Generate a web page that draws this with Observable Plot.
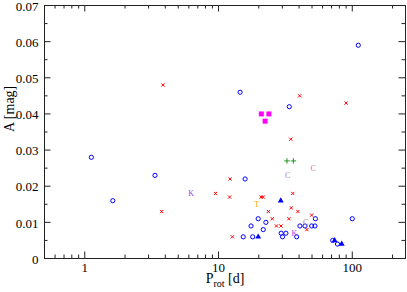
<!DOCTYPE html>
<html><head><meta charset="utf-8">
<script src="https://cdn.jsdelivr.net/npm/d3@7"></script>
<script src="https://cdn.jsdelivr.net/npm/@observablehq/plot@0.6"></script>
<style>body{margin:0;background:#fff} svg{display:block}</style>
</head><body><div id="chart"></div>
<script>
// Data (P_rot in days, amplitude A in mag)
const circleP = [1.12, 1.62, 3.35, 14.5, 15.8, 33.8, 110.9, 19.8, 22.6, 17.5, 21.6, 15.3, 18.0, 53.0, 40.6, 44.3, 49.7, 52.6, 29.4, 31.9, 30.1, 38.4, 71.4, 77.5, 100];
const circleA = [0.028, 0.016, 0.023, 0.046, 0.022, 0.042, 0.059, 0.011, 0.010, 0.009, 0.008, 0.006, 0.006, 0.011, 0.009, 0.009, 0.009, 0.009, 0.007, 0.007, 0.006, 0.006, 0.005, 0.004, 0.011];
const crossP = [3.85, 40.4, 89.8, 34.7, 12.2, 9.5, 12.1, 20.8, 21.6, 3.76, 12.7, 23.6, 35.9, 25.2, 35.0, 39.2, 33.6, 49.7, 27.1, 29.3, 45.8];
const crossA = [0.048, 0.045, 0.043, 0.033, 0.022, 0.018, 0.017, 0.017, 0.017, 0.013, 0.006, 0.013, 0.018, 0.011, 0.014, 0.013, 0.011, 0.012, 0.009, 0.009, 0.008];
const squareP = [20.9, 23.8, 22.3];
const squareA = [0.040, 0.040, 0.038];
const plusP = [32.5, 36.3];
const plusA = [0.027, 0.027];
const triP = [19.8, 29.2, 73.8, 83.4];
const triA = [0.006, 0.016, 0.005, 0.004];
const cP = [51.1, 32.9, 44.9];
const cA = [0.025, 0.023, 0.010];
const kP = [6.23, 36.9];
const kA = [0.018, 0.007];
const tP = [19.3];
const tA = [0.015];

const xMajor = [1, 10, 100];
const xMinor = [0.6, 0.7, 0.8, 0.9, 2, 3, 4, 5, 6, 7, 8, 9, 20, 30, 40, 50, 60, 70, 80, 90, 200];
const yMajor = [0, 0.01, 0.02, 0.03, 0.04, 0.05, 0.06, 0.07];
const yMinor = [0.005, 0.015, 0.025, 0.035, 0.045, 0.055, 0.065];
const xLabel = "P_rot [d]";
const yLabel = "A [mag]";

const zip = (P, A) => P.map((p, i) => ({p, a: A[i]}));

const W = 407, H = 292, mL = 44, mR = 2, mT = 5, mB = 34;
const plotH = H - mT - mB, plotW = W - mL - mR;
const font = "'Liberation Serif', 'Times New Roman', serif";
const axCol = "#222";
const maj = 6.5, mnr = 3.5;

const svg = Plot.plot({
  width: W, height: H,
  marginLeft: mL, marginRight: mR, marginTop: mT, marginBottom: mB,
  style: {fontFamily: font, fontSize: "13px", background: "#fff", color: "#000", overflow: "visible"},
  x: {type: "log", domain: [0.5, 250]},
  y: {domain: [0, 0.07]},
  marks: [
    Plot.frame({stroke: axCol}),
    Plot.ruleX(xMajor, {x: d => d, insetTop: plotH - maj, stroke: axCol}),
    Plot.ruleX(xMajor, {x: d => d, insetBottom: plotH - maj, stroke: axCol}),
    Plot.ruleX(xMinor, {x: d => d, insetTop: plotH - mnr, stroke: axCol}),
    Plot.ruleX(xMinor, {x: d => d, insetBottom: plotH - mnr, stroke: axCol}),
    Plot.ruleY(yMajor, {y: d => d, insetRight: plotW - maj, stroke: axCol}),
    Plot.ruleY(yMajor, {y: d => d, insetLeft: plotW - maj, stroke: axCol}),
    Plot.ruleY(yMinor, {y: d => d, insetRight: plotW - mnr, stroke: axCol}),
    Plot.ruleY(yMinor, {y: d => d, insetLeft: plotW - mnr, stroke: axCol}),
    Plot.axisX({ticks: xMajor, tickSize: 0, tickPadding: 4, tickFormat: d => String(d), label: null}),
    Plot.axisY({ticks: yMajor, tickSize: 0, tickPadding: 6, dy: 1, tickFormat: d => d === 0 ? "0" : d.toFixed(2), label: null}),
    Plot.text([yLabel], {text: d => d, frameAnchor: "left", dx: -35, rotate: -90, fontSize: 14}),
    Plot.text([xLabel], {text: d => d, frameAnchor: "bottom", dy: 24, fontSize: 14}),
    Plot.dot(zip(circleP, circleA), {x: "p", y: "a", r: 2.1, stroke: "#0000ff", strokeWidth: 1, fill: "none"}),
    Plot.dot(zip(crossP, crossA), {x: "p", y: "a", symbol: "times", r: 1.6, stroke: "#ff0000", strokeWidth: 1}),
    Plot.dot(zip(squareP, squareA), {x: "p", y: "a", symbol: "square", r: 2.8, fill: "#ff00ff", stroke: "none"}),
    Plot.dot(zip(plusP, plusA), {x: "p", y: "a", symbol: "plus", r: 1.9, stroke: "#1f9a1f", strokeWidth: 1}),
    Plot.dot(zip(triP, triA), {x: "p", y: "a", symbol: "triangle", r: 2.2, fill: "#0000ff", stroke: "none"}),
    Plot.text(zip(cP, cA), {x: "p", y: "a", text: () => "C", fill: "#b67ab6", fontSize: 8}),
    Plot.text(zip(kP, kA), {x: "p", y: "a", text: () => "K", fill: "#a040e0", fontSize: 8}),
    Plot.text(zip(tP, tA), {x: "p", y: "a", text: () => "T", fill: "#ffa500", fontSize: 8})
  ]
});

d3.select(svg).selectAll("text").filter(function () { return this.textContent === xLabel; })
  .each(function () {
    const t = d3.select(this);
    t.text(null);
    t.append("tspan").text("P");
    t.append("tspan").attr("font-size", "10").attr("dy", "4").text("rot");
    t.append("tspan").attr("dy", "-4").text(" [d]");
  });

document.getElementById("chart").appendChild(svg);
</script>
</body></html>
